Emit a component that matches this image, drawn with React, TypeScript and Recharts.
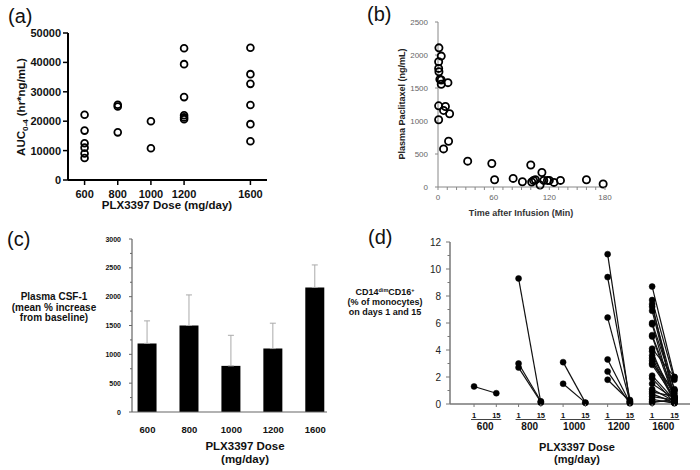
import React from "react";
import {
  ScatterChart,
  Scatter,
  BarChart,
  Bar,
  ErrorBar,
  LineChart,
  Line,
  XAxis,
  YAxis,
} from "recharts";

const FONT = "'Liberation Sans', Arial, Helvetica, sans-serif";

// (a) AUC 0-4 by PLX3397 dose
const aDoses = [600, 800, 1000, 1200, 1600];
const aAuc = [
  [22200, 16800, 12500, 11000, 9000, 7500],
  [25600, 25000, 16200],
  [20000, 10800],
  [44800, 39400, 28200, 22000, 21300, 20700],
  [45000, 36000, 32700, 25500, 19000, 13200],
];
const aYTicks = [0, 10000, 20000, 30000, 40000, 50000];

// (b) plasma paclitaxel vs time after infusion
const bTime = [1, 3.5, 0.7, 0.7, 1, 2, 3.5, 10.7, 3.5, 0.7, 8, 6, 12.5, 0.7, 11.4, 6, 32, 58, 61, 81, 91, 100, 101, 103, 105, 110, 112, 114, 118, 120, 125, 132, 160, 178];
const bConc = [2108, 1983, 1898, 1797, 1747, 1631, 1621, 1581, 1556, 1230, 1220, 1160, 1109, 1019, 693, 577, 392, 356, 110, 130, 80, 333, 75, 100, 110, 30, 220, 100, 100, 100, 70, 100, 110, 45];
const bXTicks = [0, 10, 20, 30, 40, 50, 60, 70, 80, 90, 100, 110, 120, 130, 140, 150, 160, 170, 180];
const bYTicks = [0, 500, 1000, 1500, 2000, 2500];

// (c) plasma CSF-1
const cDoses = ["600", "800", "1000", "1200", "1600"];
const cMean = [1190, 1500, 800, 1100, 2160];
const cUpper = [1580, 2030, 1330, 1540, 2550];
const cYTicks = [0, 250, 500, 750, 1000, 1250, 1500, 1750, 2000, 2250, 2500, 2750, 3000];

// (d) CD14dim CD16+ monocytes, day 1 -> day 15, per patient
const dDoses = ["600", "800", "1000", "1200", "1600"];
const dDays = ["1", "15"];
const dDay1 = [
  [1.3],
  [9.3, 3.0, 2.7],
  [3.1, 1.5],
  [11.1, 9.4, 6.4, 3.3, 2.4, 1.8],
  [8.7, 7.7, 7.4, 7.2, 6.9, 6.0, 5.9, 5.1, 5.0, 4.1, 3.9, 3.6, 3.4, 3.2, 3.0, 2.9, 2.1, 1.9, 1.5, 1.1, 0.9, 0.75, 0.55, 0.35, 0.2, 0.1],
];
const dDay15 = [
  [0.8],
  [0.1, 0.2, 0.15],
  [0.1, 0.1],
  [0.1, 0.3, 0.2, 0.1, 0.05, 0.2],
  [2.0, 1.8, 0.3, 1.0, 0.5, 1.1, 0.2, 0.8, 0.4, 2.0, 0.1, 0.6, 0.35, 0.2, 1.0, 0.5, 0.3, 0.1, 0.4, 0.2, 0.55, 0.1, 0.3, 0.05, 0.2, 0.35],
];
const dXTicks = [0, 1, 2, 3, 4, 5, 6, 7, 8, 9];
const dYTicks = [0, 1, 2, 3, 4, 5, 6, 7, 8, 9, 10, 11, 12];

// layout bits
const D_DOMAIN: [number, number] = [-1.08, 9.7];
const D_UNIT = 240 / (D_DOMAIN[1] - D_DOMAIN[0]);

const aPoints = aDoses.flatMap((d, i) => aAuc[i].map((v) => ({ dose: d, auc: v })));
const bPoints = bTime.map((t, i) => ({ t, c: bConc[i] }));
const cData = cMean.map((m, i) => ({ i, mean: m, err: [0, cUpper[i] - m] }));
const dSegments = dDay1.flatMap((g, gi) =>
  g.map((v, k) => ({
    key: `${gi}-${k}`,
    pts: [
      { x: gi * 2, y: v },
      { x: gi * 2 + 1, y: dDay15[gi][k] },
    ],
  }))
);

// text that ignores the viewBox recharts hands to labels
function Lines({ px, py, lines, size, gap = 0, rotate = false, weight = "bold", fill = "#111" }: any) {
  return (
    <text
      transform={`translate(${px},${py})${rotate ? " rotate(-90)" : ""}`}
      textAnchor="middle"
      fontSize={size}
      fontWeight={weight}
      fill={fill}
      fontFamily={FONT}
    >
      {lines.map((l: string, i: number) => (
        <tspan key={i} x={0} dy={i === 0 ? 0 : gap}>
          {l}
        </tspan>
      ))}
    </text>
  );
}

function AucTitle() {
  return (
    <text transform="translate(25,107) rotate(-90)" textAnchor="middle" fontSize={11.5} fontWeight="bold" fill="#111" fontFamily={FONT}>
      AUC
      <tspan fontSize={8} dy={3}>0-4</tspan>
      <tspan dy={-3}> (hr*ng/mL)</tspan>
    </text>
  );
}

function CdTitle() {
  return (
    <text textAnchor="middle" fontSize={9} fontWeight="bold" fill="#111" fontFamily={FONT}>
      <tspan x={40} y={80}>
        CD14<tspan fontSize={5.5} dy={-3}>dim</tspan>
        <tspan dy={3}>CD16</tspan>
        <tspan fontSize={5.5} dy={-3}>+</tspan>
      </tspan>
      <tspan x={40} y={90}>(% of monocytes)</tspan>
      <tspan x={40} y={100}>on days 1 and 15</tspan>
    </text>
  );
}

function PanelTag({ text, left, top }: { text: string; left: number; top: number }) {
  return (
    <div style={{ position: "absolute", left, top, fontSize: 20, lineHeight: "20px", fontFamily: FONT, color: "#111" }}>
      {text}
    </div>
  );
}

function PanelA() {
  return (
    <ScatterChart width={300} height={215} margin={{ top: 33, right: 33, bottom: 0, left: 0 }}>
      <XAxis
        type="number"
        dataKey="dose"
        domain={[500, 1700]}
        ticks={aDoses}
        interval={0}
        height={35}
        axisLine={{ stroke: "#000", strokeWidth: 2 }}
        tickLine={{ stroke: "#000", strokeWidth: 1.5 }}
        tickSize={5}
        tickMargin={5}
        tick={{ fontSize: 11, fontWeight: "bold", fill: "#111", fontFamily: FONT }}
        label={<Lines px={167} py={209} size={11.5} lines={["PLX3397 Dose (mg/day)"]} />}
      />
      <YAxis
        type="number"
        dataKey="auc"
        domain={[0, 50000]}
        ticks={aYTicks}
        interval={0}
        width={68}
        axisLine={{ stroke: "#000", strokeWidth: 2 }}
        tickLine={{ stroke: "#000", strokeWidth: 1.5 }}
        tickSize={5}
        tickMargin={2}
        tick={{ fontSize: 11, fontWeight: "bold", fill: "#111", fontFamily: FONT }}
        label={<AucTitle />}
      />
      <Scatter
        data={aPoints}
        isAnimationActive={false}
        shape={(p: any) => <circle cx={p.cx} cy={p.cy} r={3.4} fill="none" stroke="#000" strokeWidth={1.8} />}
      />
    </ScatterChart>
  );
}

function PanelB() {
  return (
    <ScatterChart width={300} height={222} margin={{ top: 22, right: 35, bottom: 0, left: 0 }}>
      <XAxis
        type="number"
        dataKey="t"
        domain={[0, 180]}
        ticks={bXTicks}
        interval={0}
        height={35}
        axisLine={{ stroke: "#888", strokeWidth: 1 }}
        tickLine={false}
        tickSize={0}
        tickMargin={0}
        tick={(p: any) => (
          <g>
            <line x1={p.x} x2={p.x} y1={p.y} y2={p.y + 3} stroke="#888" />
            {p.payload.value % 60 === 0 && (
              <text x={p.x} y={p.y + 13} textAnchor="middle" fontSize={8} fill="#666" fontFamily={FONT}>
                {p.payload.value}
              </text>
            )}
          </g>
        )}
        label={<Lines px={181} py={216} size={9} fill="#333" lines={["Time after Infusion (Min)"]} />}
      />
      <YAxis
        type="number"
        dataKey="c"
        domain={[0, 2500]}
        ticks={bYTicks}
        interval={0}
        width={98}
        axisLine={{ stroke: "#888", strokeWidth: 1 }}
        tickLine={{ stroke: "#888" }}
        tickSize={3}
        tickMargin={7}
        tick={{ fontSize: 8, fill: "#666", fontFamily: FONT }}
        label={<Lines px={65} py={104} size={9} rotate fill="#222" lines={["Plasma Paclitaxel (ng/mL)"]} />}
      />
      <Scatter
        data={bPoints}
        isAnimationActive={false}
        shape={(p: any) => <circle cx={p.cx} cy={p.cy} r={3.6} fill="none" stroke="#000" strokeWidth={1.8} />}
      />
    </ScatterChart>
  );
}

function PanelC() {
  return (
    <BarChart width={345} height={255} data={cData} margin={{ top: 24, right: 18, bottom: 0, left: 0 }}>
      <XAxis
        type="number"
        dataKey="i"
        domain={[-0.37, 4.28]}
        ticks={[0, 1, 2, 3, 4]}
        interval={0}
        height={58}
        axisLine={{ stroke: "#666", strokeWidth: 1.2 }}
        tickLine={false}
        tickSize={0}
        tickMargin={0}
        tick={(p: any) => (
          <text x={p.x} y={p.y + 21} textAnchor="middle" fontSize={9.5} fontWeight="bold" fill="#111" fontFamily={FONT}>
            {cDoses[p.payload.value]}
          </text>
        )}
        label={<Lines px={245} py={235} size={11.5} gap={12.5} lines={["PLX3397 Dose", "(mg/day)"]} />}
      />
      <YAxis
        type="number"
        domain={[0, 3000]}
        ticks={cYTicks}
        interval={0}
        width={132}
        axisLine={{ stroke: "#666", strokeWidth: 1.2 }}
        tickLine={false}
        tickSize={0}
        tickMargin={0}
        tick={(p: any) => {
          const major = p.payload.value % 500 === 0;
          return (
            <g>
              <line x1={p.x - (major ? 3 : 2)} x2={p.x} y1={p.y} y2={p.y} stroke="#666" />
              {major && (
                <text x={p.x - 11} y={p.y + 2.5} textAnchor="end" fontSize={7} fontWeight="bold" fill="#111" fontFamily={FONT}>
                  {p.payload.value}
                </text>
              )}
            </g>
          );
        }}
        label={<Lines px={54} py={85} size={10} gap={10.5} lines={["Plasma CSF-1", "(mean % increase", "from baseline)"]} />}
      />
      <Bar dataKey="mean" fill="#000" barSize={19} isAnimationActive={false}>
        <ErrorBar dataKey="err" direction="y" stroke="#aaa" strokeWidth={1} width={3} />
      </Bar>
    </BarChart>
  );
}

function PanelD() {
  return (
    <LineChart width={355} height={255} margin={{ top: 27, right: 10, bottom: 0, left: 0 }}>
      <XAxis
        type="number"
        dataKey="x"
        domain={D_DOMAIN}
        ticks={dXTicks}
        interval={0}
        height={66}
        allowDataOverflow
        axisLine={{ stroke: "#777", strokeWidth: 1.5 }}
        tickLine={false}
        tickSize={0}
        tickMargin={0}
        tick={(p: any) => {
          const v = p.payload.value;
          const first = v % 2 === 0;
          return (
            <g fontFamily={FONT} fontWeight="bold" fill="#111">
              <line x1={p.x} x2={p.x} y1={p.y} y2={p.y + 3} stroke="#777" />
              <text x={p.x} y={p.y + 13.5} textAnchor="middle" fontSize={7.5}>
                {first ? dDays[0] : dDays[1]}
              </text>
              {first && <line x1={p.x - 3} x2={p.x + D_UNIT + 5} y1={p.y + 15.5} y2={p.y + 15.5} stroke="#111" strokeWidth={0.8} />}
              {first && (
                <text x={p.x + D_UNIT / 2} y={p.y + 26} textAnchor="middle" fontSize={10}>
                  {dDoses[v / 2]}
                </text>
              )}
            </g>
          );
        }}
        label={<Lines px={232} py={236} size={11} gap={12} lines={["PLX3397 Dose", "(mg/day)"]} />}
      />
      <YAxis
        type="number"
        domain={[0, 12]}
        ticks={dYTicks}
        interval={0}
        width={105}
        axisLine={{ stroke: "#777", strokeWidth: 1.5 }}
        tickLine={false}
        tickSize={0}
        tickMargin={0}
        tick={(p: any) => {
          const major = p.payload.value % 2 === 0;
          return (
            <g>
              <line x1={p.x - (major ? 4 : 2.5)} x2={p.x} y1={p.y} y2={p.y} stroke="#777" />
              {major && (
                <text x={p.x - 9} y={p.y + 3.5} textAnchor="end" fontSize={10} fill="#222" fontFamily={FONT}>
                  {p.payload.value}
                </text>
              )}
            </g>
          );
        }}
        label={<CdTitle />}
      />
      {dSegments.map((s) => (
        <Line
          key={s.key}
          data={s.pts}
          dataKey="y"
          stroke="#111"
          strokeWidth={1.2}
          dot={{ r: 3, fill: "#000", stroke: "#000", strokeWidth: 0.5 }}
          isAnimationActive={false}
        />
      ))}
    </LineChart>
  );
}

export default function App() {
  return (
    <div style={{ position: "absolute", left: 0, top: 0, width: 700, height: 470, background: "#fff", overflow: "hidden" }}>
      <div style={{ position: "absolute", left: 0, top: 0 }}>
        <PanelA />
      </div>
      <div style={{ position: "absolute", left: 345, top: 215 }}>
        <PanelD />
      </div>
      <div style={{ position: "absolute", left: 0, top: 215 }}>
        <PanelC />
      </div>
      <div style={{ position: "absolute", left: 340, top: 0 }}>
        <PanelB />
      </div>
      <PanelTag text="(a)" left={8} top={6} />
      <PanelTag text="(b)" left={367} top={4} />
      <PanelTag text="(c)" left={7} top={229} />
      <PanelTag text="(d)" left={368} top={227} />
    </div>
  );
}
